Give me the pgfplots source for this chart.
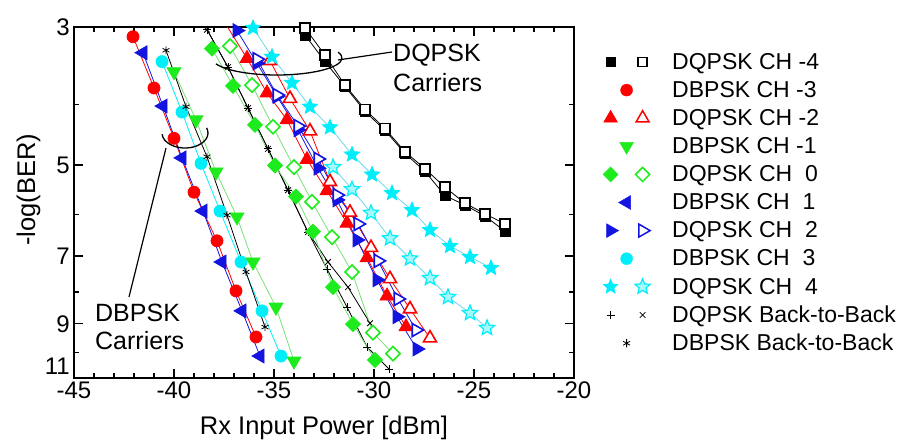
\documentclass[border=0pt]{standalone}
\usepackage{fontspec}
\setmainfont{Liberation Sans}
\usepackage{pgfplots}
\pgfplotsset{compat=1.18}

\definecolor{cR}{RGB}{255,0,0}
\definecolor{cB}{RGB}{20,20,225}
\definecolor{cG}{RGB}{30,235,30}
\definecolor{cC}{RGB}{0,238,250}
\definecolor{lG}{RGB}{120,225,120}
\definecolor{lC}{RGB}{110,215,235}

\pgfdeclareplotmark{fstar}{%
 \pgfpathmoveto{\pgfpointpolar{90}{\pgfplotmarksize}}%
 \pgfpathlineto{\pgfpointpolar{126}{0.45\pgfplotmarksize}}%
 \pgfpathlineto{\pgfpointpolar{162}{\pgfplotmarksize}}%
 \pgfpathlineto{\pgfpointpolar{198}{0.45\pgfplotmarksize}}%
 \pgfpathlineto{\pgfpointpolar{234}{\pgfplotmarksize}}%
 \pgfpathlineto{\pgfpointpolar{270}{0.45\pgfplotmarksize}}%
 \pgfpathlineto{\pgfpointpolar{306}{\pgfplotmarksize}}%
 \pgfpathlineto{\pgfpointpolar{342}{0.45\pgfplotmarksize}}%
 \pgfpathlineto{\pgfpointpolar{18}{\pgfplotmarksize}}%
 \pgfpathlineto{\pgfpointpolar{54}{0.45\pgfplotmarksize}}%
 \pgfpathclose
 \pgfusepathqfillstroke}

\pgfplotsset{
  leg2/.style 2 args={legend image code/.code={%
     \path[draw=none,fill=none] (-7bp,-9bp) rectangle (39bp,9bp);
     \draw[only marks,#1] plot coordinates {(0bp,0bp)};
     \draw[only marks,#2] plot coordinates {(32bp,0bp)};}},
  leg1/.style={legend image code/.code={%
     \path[draw=none,fill=none] (-7bp,-9bp) rectangle (39bp,9bp);
     \draw[only marks,#1] plot coordinates {(16bp,0bp)};}},
}

\begin{document}
\begin{tikzpicture}
\useasboundingbox (0,0) rectangle (901bp,441bp);
\begin{axis}[
  at={(74bp,63bp)}, anchor=south west,
  width=500bp, height=351bp, scale only axis,
  xmin=-45, xmax=-20, ymin=3, ymax=11,
  ymode=log, y dir=reverse,
  xtick={-45,-40,-35,-30,-25,-20},
  xticklabels={-45,-40,-35,-30,-25,-20},
  minor x tick num=4,
  ytick={3,5,7,9,11}, yticklabels={3,5,7,9,\raisebox{4bp}[0pt][0pt]{11}},
  minor ytick={4,6,8,10},
  axis line style={line width=2bp},
  major tick length=9bp, minor tick length=5bp,
  every tick/.style={black, line width=1.3bp},
  tick label style={font=\fontsize{24bp}{28bp}\selectfont},
  xticklabel style={inner xsep=0pt, inner ysep=3.5bp},
  yticklabel style={inner xsep=4bp, inner ysep=0pt},
  xlabel={Rx Input Power [dBm]}, ylabel={-log(BER)},
  label style={font=\fontsize{25.5bp}{30bp}\selectfont},
  xlabel style={at={(axis description cs:0.5,0)}, anchor=base, yshift=-56bp},
  ylabel style={at={(axis description cs:-0.091,0.536)}, anchor=center},
  legend style={at={(1,1)}, anchor=north west, xshift=29bp, yshift=-26bp,
     draw=none, fill=none, inner sep=0pt, outer sep=0pt,
     row sep=10.1bp, column sep=22bp,
     nodes={inner sep=0pt, outer sep=0pt},
     font=\fontsize{23bp}{24bp}\selectfont},
  legend cell align=left,
]
% ---------- DBPSK carriers ----------
\addplot[forget plot, color=cR, line width=0.8bp, mark=*, mark size=6bp, mark options={solid}]
 coordinates {(-42.05,3.11) (-41.0,3.76) (-40.0,4.53) (-39.0,5.53) (-37.85,6.62) (-36.9,7.97) (-35.9,9.45)};
\addplot[forget plot, color=cB, line width=0.8bp, mark=triangle*, mark size=8bp, mark options={solid,rotate=90}]
 coordinates {(-41.55,3.30) (-40.55,4.02) (-39.6,4.87) (-38.55,5.93) (-37.6,7.16) (-36.6,8.58) (-35.7,10.14)};
\addplot[forget plot, color=cC, line width=0.8bp, mark=*, mark size=6bp, mark options={solid}]
 coordinates {(-40.6,3.41) (-39.6,4.11) (-38.65,4.97) (-37.7,5.93) (-36.65,7.16) (-35.6,8.58) (-34.65,10.14)};
\addplot[forget plot, color=lG, line width=0.8bp, mark=triangle*, mark size=8bp, mark options={solid,rotate=180,color=cG}]
 coordinates {(-40.0,3.54) (-38.9,4.23) (-37.9,5.13) (-36.85,6.06) (-36.05,7.16) (-34.9,8.46) (-34.0,10.33)};
\addplot[forget plot, color=black, line width=0.8bp, mark=asterisk, mark size=4bp, mark options={solid,line width=0.8bp}]
 coordinates {(-40.4,3.27) (-39.4,4.03) (-38.35,4.85) (-37.35,6.02) (-36.4,7.43) (-35.45,9.11)};
% ---------- DQPSK back-to-back ----------
\addplot[forget plot, color=black, line width=0.8bp, mark=+, mark size=4bp, mark options={solid,line width=0.8bp}]
 coordinates {(-38.35,3.03) (-37.3,3.48) (-36.3,4.05) (-35.3,4.71) (-34.3,5.49) (-33.3,6.41) (-32.35,7.35) (-31.35,8.46) (-30.35,9.81) (-29.25,10.64)};
\addplot[forget plot, color=black, line width=0.8bp, mark=x, mark size=4bp, mark options={solid,line width=0.8bp}]
 coordinates {(-38.35,3.03) (-37.3,3.48) (-36.3,4.05) (-35.3,4.71) (-34.3,5.49) (-33.3,6.41) (-32.3,7.16) (-31.3,7.86) (-30.2,8.98)};
% ---------- DQPSK CH 0 ----------
\addplot[forget plot, color=lG, line width=0.8bp, mark=square*, mark size=5.3bp, mark options={solid,rotate=45,color=cG}]
 coordinates {(-38.1,3.25) (-37.05,3.73) (-35.95,4.31) (-34.95,5.01) (-33.9,5.62) (-33.05,6.40) (-32.05,7.86) (-31.05,9.01) (-29.95,10.29)};
\addplot[forget plot, color=lG, line width=0.8bp, mark=square*, mark size=5bp, mark options={solid,rotate=45,draw=cG,fill=white,line width=1.6bp}]
 coordinates {(-37.2,3.22) (-36.1,3.72) (-35.05,4.34) (-34.0,5.04) (-33.1,5.73) (-32.1,6.53) (-31.1,7.43) (-30.05,9.30) (-29.05,10.05)};
% ---------- DQPSK CH -2 ----------
\addplot[forget plot, color=cR, line width=0.8bp, mark=triangle*, mark size=8bp, mark options={solid}]
 coordinates {(-37.35,2.99) (-36.35,3.37) (-35.35,3.83) (-34.35,4.23) (-33.35,4.90) (-32.35,5.50) (-31.35,6.20) (-30.35,7.05) (-29.35,8.12) (-28.4,9.10)};
\addplot[forget plot, color=cR, line width=0.8bp, mark=triangle*, mark size=7.5bp, mark options={solid,fill=white,line width=1.6bp}]
 coordinates {(-35.2,3.40) (-34.2,3.91) (-33.2,4.41) (-32.2,5.32) (-31.2,5.96) (-30.15,6.79) (-29.2,7.62) (-28.2,8.52) (-27.2,9.49)};
% ---------- DQPSK CH 2 ----------
\addplot[forget plot, color=cB, line width=0.8bp, mark=triangle*, mark size=8bp, mark options={solid,rotate=-90}]
 coordinates {(-36.85,3.04) (-35.85,3.43) (-34.85,3.88) (-33.8,4.39) (-32.8,5.06) (-31.85,5.69) (-30.85,6.60) (-29.85,7.65) (-28.85,8.77) (-27.85,9.88)};
\addplot[forget plot, color=cB, line width=0.8bp, mark=triangle*, mark size=7.5bp, mark options={solid,rotate=-90,fill=white,line width=1.6bp}]
 coordinates {(-35.85,3.38) (-34.85,3.86) (-33.8,4.33) (-32.8,4.89) (-31.85,5.59) (-30.8,6.22) (-29.8,7.13) (-28.8,8.21) (-27.9,9.21)};
% ---------- DQPSK CH 4 ----------
\addplot[forget plot, color=lC, line width=0.8bp, mark=fstar, mark size=8bp, mark options={solid,color=cC}]
 coordinates {(-36.05,3.01) (-35.1,3.35) (-34.1,3.69) (-33.2,4.03) (-32.2,4.35) (-31.1,4.81) (-30.1,5.18) (-29.1,5.55) (-28.1,5.91) (-27.2,6.36) (-26.2,6.75) (-25.2,7.03) (-24.15,7.32)};
\addplot[forget plot, color=lC, line width=0.8bp, mark=fstar, mark size=8bp, mark options={solid,draw=cC,fill=cC!35!white,line width=1.2bp}]
 coordinates {(-32.05,5.04) (-31.1,5.47) (-30.15,5.97) (-29.2,6.56) (-28.2,7.07) (-27.2,7.60) (-26.3,8.15) (-25.2,8.65) (-24.35,9.14)};
% ---------- DQPSK CH -4 ----------
\addplot[forget plot, color=black, line width=0.8bp, mark=square*, mark size=5bp, mark options={solid}]
 coordinates {(-33.45,3.09) (-32.45,3.41) (-31.45,3.74) (-30.45,4.10) (-29.45,4.40) (-28.45,4.79) (-27.45,5.12) (-26.45,5.60) (-25.45,5.80) (-24.45,6.04) (-23.45,6.39)};
\addplot[forget plot, color=black, line width=0.8bp, mark=square*, mark size=5bp, mark options={solid,fill=white,line width=1.6bp}]
 coordinates {(-33.45,3.01) (-32.45,3.33) (-31.45,3.72) (-30.45,4.07) (-29.45,4.37) (-28.45,4.76) (-27.45,5.07) (-26.45,5.43) (-25.45,5.76) (-24.45,5.99) (-23.45,6.22)};
% ---------- legend ----------
\addlegendimage{leg2={mark=square*,mark size=4.5bp,black}{mark=square,mark size=4.5bp,black,line width=1.5bp}}
\addlegendentry{DQPSK CH -4}
\addlegendimage{leg1={mark=*,mark size=6bp,cR}}
\addlegendentry{DBPSK CH -3}
\addlegendimage{leg2={mark=triangle*,mark size=8bp,cR}{mark=triangle,mark size=7.5bp,cR,line width=1.5bp}}
\addlegendentry{DQPSK CH -2}
\addlegendimage{leg1={mark=triangle*,mark size=8bp,cG,mark options={rotate=180}}}
\addlegendentry{DBPSK CH -1}
\addlegendimage{leg2={mark=square*,mark size=5.3bp,cG,mark options={rotate=45}}{mark=square,mark size=5bp,cG,line width=1.5bp,mark options={rotate=45}}}
\addlegendentry{DQPSK CH \ 0}
\addlegendimage{leg1={mark=triangle*,mark size=8bp,cB,mark options={rotate=90}}}
\addlegendentry{DBPSK CH \ 1}
\addlegendimage{leg2={mark=triangle*,mark size=8bp,cB,mark options={rotate=-90}}{mark=triangle,mark size=7.5bp,cB,line width=1.5bp,mark options={rotate=-90}}}
\addlegendentry{DQPSK CH \ 2}
\addlegendimage{leg1={mark=*,mark size=6bp,cC}}
\addlegendentry{DBPSK CH \ 3}
\addlegendimage{leg2={mark=fstar,mark size=8bp,cC}{mark=fstar,mark size=8bp,draw=cC,fill=cC!35!white,line width=1.2bp}}
\addlegendentry{DQPSK CH \ 4}
\addlegendimage{leg2={mark=+,mark size=4bp,black,line width=0.8bp}{mark=x,mark size=4bp,black,line width=0.8bp}}
\addlegendentry{DQPSK Back-to-Back}
\addlegendimage{leg1={mark=asterisk,mark size=4bp,black,line width=0.8bp}}
\addlegendentry{DBPSK Back-to-Back}
\end{axis}
% ---------- annotations ----------
\draw[line width=1.3bp] (277bp,383bp) ++(200:65bp and 17bp)
   arc[start angle=200, end angle=380, x radius=65bp, y radius=17bp];
\draw[line width=1.2bp] (338bp,381bp) -- (392bp,389bp);
\draw[line width=1.3bp] (185bp,308bp) ++(185:23bp and 15bp)
   arc[start angle=185, end angle=380, x radius=23bp, y radius=15bp];
\draw[line width=1.2bp] (166bp,293bp) -- (129bp,144bp);
\begin{scope}[every node/.style={anchor=base west, inner sep=0pt, font=\fontsize{25bp}{30bp}\selectfont}]
\node at (393bp,379bp) {DQPSK};
\node at (393bp,349bp) {Carriers};
\node at (95bp,119bp) {DBPSK};
\node at (95bp,91bp) {Carriers};
\end{scope}
\end{tikzpicture}
\end{document}
